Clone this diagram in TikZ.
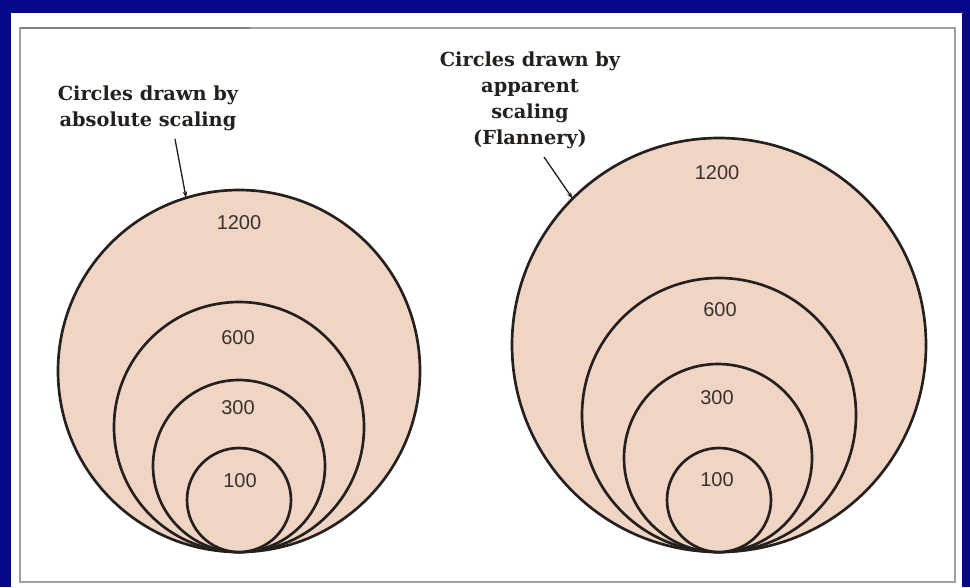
\documentclass[tikz,border=0pt]{standalone}
\usepackage{fontspec}
\setmainfont{DejaVu Serif}
\newfontfamily\numfont{Liberation Sans}
\usetikzlibrary{arrows.meta}
\definecolor{bgblue}{RGB}{8,8,138}
\definecolor{peach}{RGB}{240,213,197}
\definecolor{ink}{RGB}{36,32,30}
\definecolor{framegray}{RGB}{160,160,160}
\definecolor{numgray}{RGB}{55,50,48}
\tikzset{
  ring/.style={circle, draw=ink, fill=peach, line width=2pt, inner sep=0pt, outer sep=0pt},
  numlab/.style={font={\numfont\fontsize{15}{18}\selectfont}, text=numgray, inner sep=0pt},
  caption/.style={font={\bfseries\fontsize{14.5}{19.5}\selectfont}, text=ink, align=center, inner sep=0pt, anchor=north},
  pointer/.style={draw=ink, line width=1pt, -{Stealth[length=5pt,width=3.5pt]}}
}
\begin{document}
\begin{tikzpicture}[x=0.75pt,y=-0.75pt]
% background and panel
\fill[bgblue] (0,0) rectangle (970,587);
\fill[white] (11,13) rectangle (962,587);
\draw[framegray, line width=0.9pt] (20,28) rectangle (955,582);
\draw[gray, line width=1.2pt] (20,28) -- (250,28);
\useasboundingbox (0,0) rectangle (970,587);

% left set: absolute scaling
\node[ring, minimum size=362*0.75pt] (L1200) at (239,371) {};
\node[ring, minimum size=250*0.75pt] (L600) at (239,427) {};
\node[ring, minimum size=172*0.75pt] (L300) at (239,466) {};
\node[ring, minimum size=104*0.75pt] (L100) at (239,500) {};
\node[numlab] (t1200L) at (239,223) {1200};
\node[numlab] (t600L) at (238,338) {600};
\node[numlab] (t300L) at (238,408) {300};
\node[numlab] (t100L) at (240,481) {100};

% right set: apparent scaling
\node[ring, minimum size=414*0.75pt] (R1200) at (719,345) {};
\node[ring, minimum size=274*0.75pt] (R600) at (719,415) {};
\node[ring, minimum size=188*0.75pt] (R300) at (718,458) {};
\node[ring, minimum size=104*0.75pt] (R100) at (719,500) {};
\node[numlab] (t1200R) at (717,173) {1200};
\node[numlab] (t600R) at (720,310) {600};
\node[numlab] (t300R) at (717,398) {300};
\node[numlab] (t100R) at (717,480) {100};

% captions
\node[caption] (capL) at (148,86) {Circles drawn by\\absolute scaling};
\node[caption] (capR) at (530,52) {Circles drawn by\\apparent\\scaling\\(Flannery)};

% pointers
\coordinate (pL) at (175,139);
\coordinate (pR) at (544,157);
\draw[pointer] (pL) -- (L1200.107);
\draw[pointer] (pR) -- (R1200.135);
\end{tikzpicture}
\end{document}
